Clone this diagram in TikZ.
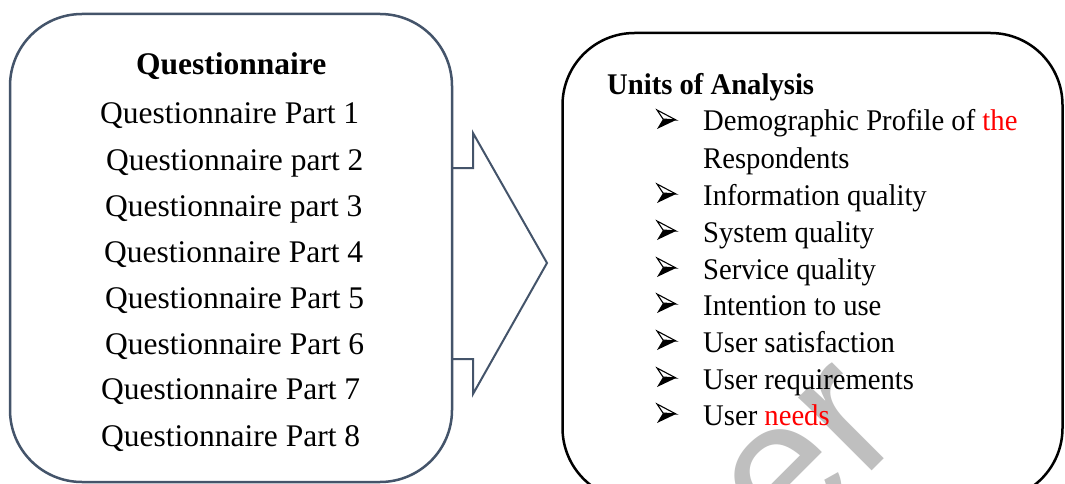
\documentclass[tikz,border=0pt]{standalone}
\usepackage{fontspec}
\setmainfont{Liberation Serif}
\newfontfamily\rfont[FakeStretch=0.955]{Liberation Serif}
\newfontfamily\wmfont{Liberation Sans}
\definecolor{slate}{HTML}{44546A}
\definecolor{wmgray}{HTML}{BFBFBF}
\definecolor{redtxt}{HTML}{FF0000}
\begin{document}
\begin{tikzpicture}[x=1pt,y=-1pt,
  lt/.style={anchor=base west,inner sep=0pt,font=\fontsize{31.5}{36}\selectfont},
  rt/.style={anchor=base west,inner sep=0pt,font=\rfont\fontsize{30}{36}\selectfont},
  boxstyle/.style={draw,fill=white,rounded corners=72pt,inner sep=0pt},
  bul/.pic={
    \fill[black] (6,-12)--(19,-11)--(0,-2)--cycle;
    \draw[black,line width=1.1pt,line join=miter,fill=white] (0,-21)--(19,-11)--(6,-12)--cycle;
  }]
\clip (0,0) rectangle (1065,484);
\fill[white] (0,0) rectangle (1065,484);
% block arrow
\draw[slate,line width=2pt,line join=miter] (452,168)--(473,168)--(473,133)--(547,263)--(473,394)--(473,359)--(452,359);
% boxes
\node[boxstyle,draw=slate,line width=2.5pt,minimum width=442pt,minimum height=468pt] (qbox) at (231,248) {};
\node[boxstyle,draw=black,line width=2.5pt,minimum width=500pt,minimum height=467pt] (ubox) at (812.5,266.5) {};
% watermark
\node[rotate=45,anchor=base west,inner sep=0pt,text=wmgray,font=\wmfont\fontsize{196}{196}\selectfont] (wmk) at (785,558) {er};
% left texts
\node[lt] (qt) at (136,75) {\textbf{Questionnaire}};
\node[lt] (q1) at (100,124) {Questionnaire Part 1};
\node[lt] (q2) at (106,170) {Questionnaire part 2};
\node[lt] (q3) at (105,216) {Questionnaire part 3};
\node[lt] (q4) at (104,262) {Questionnaire Part 4};
\node[lt] (q5) at (105,308) {Questionnaire Part 5};
\node[lt] (q6) at (105,354) {Questionnaire Part 6};
\node[lt] (q7) at (101,399) {Questionnaire Part 7};
\node[lt] (q8) at (101,446) {Questionnaire Part 8};
% right texts
\node[rt] (ut) at (607,95) {\bfseries Units of Analysis};
\node[rt] (u1) at (703,131) {Demographic Profile of \textcolor{redtxt}{the}};
\node[rt] (u1b) at (703,168) {Respondents};
\node[rt] (u2) at (703,205) {Information quality};
\node[rt] (u3) at (703,242) {System quality};
\node[rt] (u4) at (703,279) {Service quality};
\node[rt] (u5) at (703,315) {Intention to use};
\node[rt] (u6) at (703,352) {User satisfaction};
\node[rt] (u7) at (703,389) {User requirements};
\node[rt] (u8) at (703,425) {User \textcolor{redtxt}{needs}};
\pic (b1) at (657,131) {bul};
\pic (b2) at (657,205) {bul};
\pic (b3) at (657,242) {bul};
\pic (b4) at (657,279) {bul};
\pic (b5) at (657,315) {bul};
\pic (b6) at (657,352) {bul};
\pic (b7) at (657,389) {bul};
\pic (b8) at (657,425) {bul};
\end{tikzpicture}
\end{document}
